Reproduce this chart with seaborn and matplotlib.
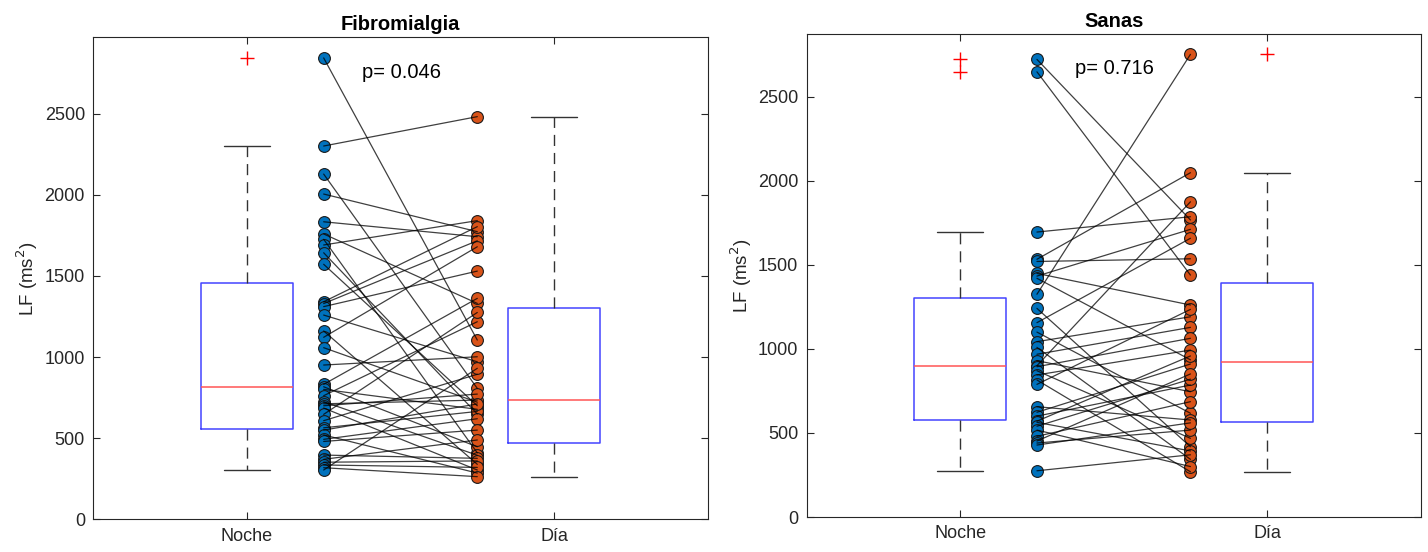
import numpy as np
import pandas as pd
import matplotlib
matplotlib.use("Agg")
import matplotlib.pyplot as plt
import seaborn as sns

sns.set_style("white")
plt.rcParams['font.family'] = ['Liberation Sans', 'DejaVu Sans']

categories = ["Noche", "Día"]
titles = ["Fibromialgia", "Sanas"]
p_labels = ["p= 0.046", "p= 0.716"]

# Fibromialgia: paired values (subject order)
noche_fm = [2844, 2301, 2128, 2005, 1834, 1759, 1726, 1691, 1643, 1572,
            1341, 1330, 1311, 1259, 1161, 1122, 1058, 951, 832, 817,
            801, 762, 725, 712, 700, 686, 647, 608, 564, 550,
            520, 493, 480, 396, 370, 352, 335, 318, 304]
dia_fm = [1105, 2482, 807, 1773, 1742, 1331, 410, 1841, 649, 700,
          1804, 1717, 1530, 971, 339, 1680, 722, 1002, 1362, 447,
          678, 1218, 395, 735, 772, 304, 1275, 894, 665, 711,
          285, 620, 550, 376, 489, 360, 320, 263, 931]

# Sanas: paired values (subject order)
noche_sa = [2722, 2648, 1695, 1533, 1520, 1449, 1433, 1420, 1325, 1241,
            1156, 1100, 1043, 1009, 968, 930, 900, 894, 870, 845,
            815, 789, 656, 623, 600, 570, 563, 540, 517, 480,
            452, 440, 428, 275]
dia_sa = [1767, 1439, 1786, 2048, 1536, 1261, 1711, 935, 2752, 418,
          1658, 617, 1191, 343, 1128, 745, 1875, 1063, 468, 993,
          269, 1235, 577, 910, 785, 958, 393, 820, 300, 686,
          851, 517, 560, 370]

panels = [(noche_fm, dia_fm, 2971), (noche_sa, dia_sa, 2873)]

fig = plt.figure(figsize=(14.28, 5.52), dpi=100)
axes_pos = [[0.0653, 0.0592, 0.4303, 0.8732], [0.5649, 0.0634, 0.4300, 0.8750]]

text_col = "#262626"
blue = "#0072BD"
orange = "#D95319"

for i, ((noche, dia, ytop), pos) in enumerate(zip(panels, axes_pos)):
    ax = fig.add_axes(pos)
    df = pd.DataFrame({
        "momento": [categories[0]] * len(noche) + [categories[1]] * len(dia),
        "LF": list(noche) + list(dia),
    })
    sns.boxplot(data=df, x="momento", y="LF", order=categories, ax=ax,
                width=0.3, fill=False, whis=1.5,
                boxprops=dict(color="#4444FF", linewidth=1.1),
                medianprops=dict(color="#FF5555", linewidth=1.1),
                whiskerprops=dict(color="#333333", linewidth=1.0, linestyle=(0, (8, 5))),
                capprops=dict(color="#333333", linewidth=1.0),
                flierprops=dict(marker="+", markeredgecolor="red", markerfacecolor="red",
                                markersize=10, markeredgewidth=1.0))
    xn = np.full(len(noche), 0.25)
    xd = np.full(len(dia), 0.75)
    ax.scatter(xn, noche, s=72, color=blue, edgecolor="#1a1a1a", linewidth=0.8, zorder=3)
    ax.scatter(xd, dia, s=72, color=orange, edgecolor="#1a1a1a", linewidth=0.8, zorder=3)
    for a, b in zip(noche, dia):
        ax.plot([0.25, 0.75], [a, b], color="black", linewidth=0.9, alpha=0.75, zorder=4)

    ax.set_xlim(-0.5, 1.5)
    ax.set_ylim(0, ytop)
    ax.set_yticks([0, 500, 1000, 1500, 2000, 2500])
    ax.set_xticks([0, 1])
    ax.set_xticklabels(categories)
    ax.set_xlabel("")
    ax.set_ylabel("LF (ms$^2$)", fontsize=13.5, color=text_col, labelpad=3)
    ax.set_title(titles[i], fontsize=14.5, fontweight="bold", color="black", pad=5)
    ax.tick_params(direction="in", length=5, width=0.8, colors=text_col,
                   labelsize=13, top=True, right=True, bottom=True, left=True, pad=6)
    for sp in ax.spines.values():
        sp.set_visible(True)
        sp.set_color(text_col)
        sp.set_linewidth(0.8)
    ax.text(0.375, ytop * 0.928, p_labels[i], fontsize=14.5, color="black",
            ha="left", va="center")

fig.savefig("out.png", dpi=100)
